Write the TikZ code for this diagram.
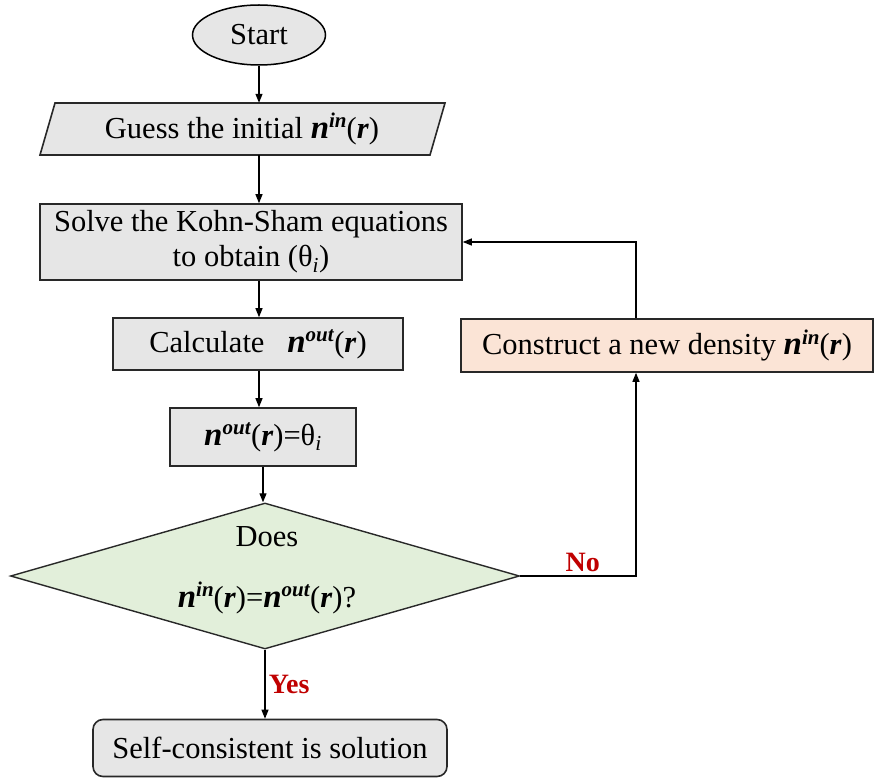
\documentclass[tikz,border=0pt]{standalone}
\usepackage{fontspec}
\setmainfont{Liberation Serif}
\usetikzlibrary{shapes.geometric,arrows.meta,calc}
\definecolor{boxgray}{RGB}{230,230,230}
\definecolor{peach}{RGB}{251,228,214}
\definecolor{mint}{RGB}{226,239,218}
\definecolor{darkred}{RGB}{192,0,0}
\definecolor{edge}{RGB}{40,40,40}
\newcommand{\bn}{{\fontsize{33}{34}\selectfont\textbf{\textit{n}}}}
\newcommand{\sups}[1]{\raisebox{0.36em}{\fontsize{21}{24}\selectfont\textbf{\textit{#1}}}}
\newcommand{\brr}{(\textbf{\textit{r}})}
\newcommand{\nin}{\bn\sups{in}\brr}
\newcommand{\nout}{\bn\sups{out}\brr}
\newcommand{\thi}{θ\textsubscript{\textit{i}}}
\begin{document}
\begin{tikzpicture}[x=1pt,y=-1pt,
  every node/.style={font=\fontsize{30.5}{35}\selectfont, text=black},
  box/.style={draw=edge, line width=1.6pt, fill=boxgray, rectangle, inner sep=0pt},
  arr/.style={draw=black, line width=1.2pt, -{Triangle[length=9pt,width=7pt]}},
  lbl/.style={text=darkred, font=\fontsize{28}{30}\selectfont\bfseries}]
\useasboundingbox (0,0) rectangle (875,778);
\node[ellipse, draw=black, line width=1.5pt, fill=boxgray, minimum width=133pt, minimum height=60pt, inner sep=0pt] (start) at (259,35) {Start};
\filldraw[draw=edge, line width=1.6pt, fill=boxgray] (55,103) -- (445,103) -- (430,155) -- (40,155) -- cycle;
\node[minimum width=390pt, minimum height=52pt, inner sep=0pt] (guess) at (242,129) {Guess the initial \nin};
\node[box, minimum width=422pt, minimum height=76pt, align=center] (solve) at (251,242) {Solve the Kohn-Sham equations\\to obtain (\thi)};
\node[box, minimum width=290pt, minimum height=52pt] (calc) at (258,344) {Calculate\hspace{0.5em} \nout};
\node[box, minimum width=186pt, minimum height=58pt] (eq) at (263,437) {\nout=\thi};
\node[box, fill=peach, minimum width=412pt, minimum height=53pt] (cons) at (667,345.5) {Construct a new density \nin};
\node[diamond, draw=edge, line width=1.4pt, fill=mint, minimum width=509pt, minimum height=146pt, inner sep=0pt, aspect=3.5] (dia) at (265,576) {};
\node[align=center, inner sep=0pt] (diatxt) at (267,570) {Does\\[26pt]\nin=\nout?};
\node[box, rounded corners=10pt, minimum width=354pt, minimum height=57pt] (sol) at (270,748) {Self-consistent is solution};
\coordinate (ax) at (259,0);
\coordinate (cx) at (636,0);
\draw[arr] (start.south) -- (start.south |- guess.north);
\draw[arr] (guess.south -| ax) -- (solve.north -| ax);
\draw[arr] (solve.south -| ax) -- (calc.north -| ax);
\draw[arr] (calc.south -| ax) -- (eq.north -| ax);
\draw[arr] (eq.south) -- (eq.south |- dia.north);
\draw[arr] (dia.south) -- (dia.south |- sol.north) node[lbl, midway, right] {Yes};
\draw[arr] (dia.east) -| (cons.south -| cx) node[lbl, pos=0.27, above] {No};
\draw[arr] (cons.north -| cx) |- (solve.east);
\end{tikzpicture}
\end{document}
